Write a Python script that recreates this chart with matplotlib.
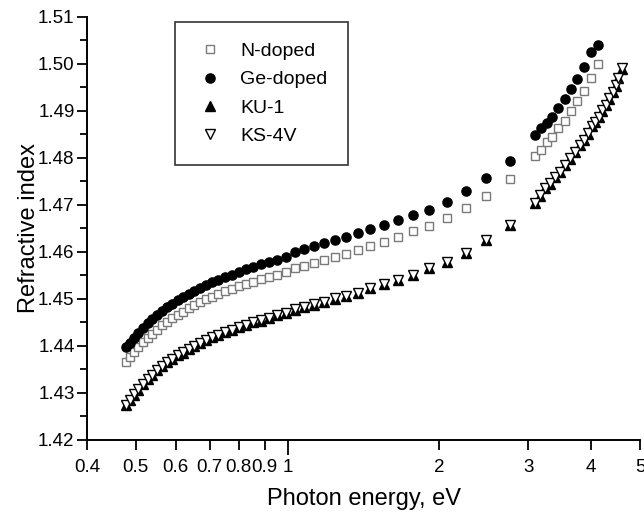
import matplotlib
matplotlib.use("Agg")
import matplotlib.pyplot as plt
from matplotlib.ticker import FixedLocator, FixedFormatter, MultipleLocator

plt.rcParams['font.family'] = ['Liberation Sans', 'DejaVu Sans']

# -----------------------------
# DATA
# -----------------------------
# visible / IR points, photon energy in eV
vis_energy = [0.477, 0.486, 0.496, 0.506, 0.517, 0.528, 0.539, 0.551, 0.564, 0.577,
              0.590, 0.605, 0.620, 0.636, 0.653, 0.670, 0.689, 0.709, 0.729, 0.752,
              0.775, 0.800, 0.827, 0.855, 0.886, 0.919, 0.954, 0.992, 1.033, 1.078,
              1.127, 1.181, 1.240, 1.305, 1.378, 1.459, 1.550, 1.653, 1.771, 1.908,
              2.067, 2.255, 2.480, 2.756]

ge_vis = [1.4397, 1.4407, 1.4418, 1.4428, 1.4438, 1.4448, 1.4457, 1.4466, 1.4475, 1.4483,
          1.4490, 1.4497, 1.4504, 1.4511, 1.4518, 1.4524, 1.4530, 1.4536, 1.4541, 1.4547,
          1.4552, 1.4558, 1.4563, 1.4568, 1.4574, 1.4579, 1.4584, 1.4590, 1.4599, 1.4606,
          1.4612, 1.4619, 1.4626, 1.4632, 1.4640, 1.4649, 1.4657, 1.4669, 1.4679, 1.4690,
          1.4706, 1.4729, 1.4757, 1.4794]

n_vis = [1.4367, 1.4377, 1.4388, 1.4398, 1.4408, 1.4417, 1.4426, 1.4435, 1.4444, 1.4452,
         1.4459, 1.4466, 1.4473, 1.4480, 1.4487, 1.4493, 1.4499, 1.4505, 1.4510, 1.4516,
         1.4521, 1.4527, 1.4532, 1.4537, 1.4542, 1.4547, 1.4552, 1.4558, 1.4565, 1.4571,
         1.4577, 1.4583, 1.4590, 1.4596, 1.4604, 1.4612, 1.4621, 1.4631, 1.4644, 1.4655,
         1.4672, 1.4693, 1.4719, 1.4755]

ks_vis = [1.4274, 1.4285, 1.4297, 1.4308, 1.4319, 1.4330, 1.4339, 1.4349, 1.4358, 1.4366,
          1.4373, 1.4380, 1.4387, 1.4394, 1.4401, 1.4407, 1.4413, 1.4419, 1.4424, 1.4430,
          1.4435, 1.4440, 1.4445, 1.4450, 1.4455, 1.4460, 1.4466, 1.4471, 1.4478, 1.4484,
          1.4489, 1.4494, 1.4502, 1.4507, 1.4513, 1.4523, 1.4532, 1.4540, 1.4551, 1.4565,
          1.4579, 1.4598, 1.4626, 1.4657]

ku_vis = [1.4274, 1.4285, 1.4296, 1.4307, 1.4319, 1.4329, 1.4339, 1.4348, 1.4357, 1.4366,
          1.4372, 1.4380, 1.4386, 1.4394, 1.4400, 1.4407, 1.4412, 1.4419, 1.4423, 1.4430,
          1.4434, 1.4440, 1.4444, 1.4450, 1.4454, 1.4460, 1.4465, 1.4471, 1.4477, 1.4484,
          1.4488, 1.4494, 1.4501, 1.4507, 1.4512, 1.4523, 1.4531, 1.4540, 1.4550, 1.4565,
          1.4578, 1.4598, 1.4625, 1.4657]

# UV points
uv_energy = [3.100, 3.179, 3.263, 3.351, 3.444, 3.543, 3.647, 3.758, 3.875, 4.000, 4.133]
ge_uv = [1.4849, 1.4863, 1.4874, 1.4888, 1.4906, 1.4925, 1.4946, 1.4967, 1.4993, 1.5025, 1.5041]
n_uv = [1.4804, 1.4818, 1.4833, 1.4845, 1.4863, 1.4879, 1.4899, 1.4921, 1.4943, 1.4970, 1.5001]

tri_uv_energy = [3.10, 3.17, 3.24, 3.32, 3.39, 3.47, 3.55, 3.63, 3.72, 3.80, 3.88,
                 3.95, 4.01, 4.07, 4.15, 4.21, 4.28, 4.34, 4.41, 4.48, 4.53, 4.60]
ks_uv = [1.4704, 1.4721, 1.4736, 1.4746, 1.4760, 1.4771, 1.4785, 1.4799, 1.4813, 1.4828, 1.4838,
         1.4853, 1.4867, 1.4877, 1.4888, 1.4902, 1.4913, 1.4927, 1.4941, 1.4955, 1.4970, 1.4991]
ku_uv = [1.4704, 1.4720, 1.4736, 1.4745, 1.4760, 1.4770, 1.4785, 1.4798, 1.4813, 1.4827, 1.4838,
         1.4852, 1.4867, 1.4876, 1.4888, 1.4901, 1.4913, 1.4926, 1.4941, 1.4954, 1.4970, 1.4990]

x_ticks = [0.4, 0.5, 0.6, 0.7, 0.8, 0.9, 2, 3, 4, 5]
x_tick_labels = ["0.4", "0.5", "0.6", "0.7", "0.8", "0.9", "2", "3", "4", "5"]

# -----------------------------
# FIGURE
# -----------------------------
fig = plt.figure(figsize=(6.44, 5.16), dpi=100)
ax = fig.add_axes([0.1351, 0.1473, 0.8587, 0.8198])

sq = dict(marker="s", linestyle="none", markersize=5.8, markerfacecolor="white",
          markeredgecolor="#7a7a7a", markeredgewidth=1.0)
ci = dict(marker="o", linestyle="none", markersize=6.6, color="black")
up = dict(marker="^", linestyle="none", markersize=6.8, color="black")
dn = dict(marker="v", linestyle="none", markersize=6.8, markerfacecolor="white",
          markeredgecolor="black", markeredgewidth=1.0)

ax.plot(vis_energy, n_vis, label="N-doped", **sq)
ax.plot(uv_energy, n_uv, **sq)
ax.plot(vis_energy, ge_vis, label="Ge-doped", **ci)
ax.plot(uv_energy, ge_uv, **ci)
ax.plot(vis_energy, ku_vis, label="KU-1", **up)
ax.plot(tri_uv_energy, ku_uv, **up)
ax.plot(vis_energy, ks_vis, label="KS-4V", **dn)
ax.plot(tri_uv_energy, ks_uv, **dn)

ax.set_xscale("log")
ax.set_xlim(0.4, 5)
ax.set_ylim(1.42, 1.51)

# x ticks: decade at 1 (longer), others labeled minor ticks
ax.xaxis.set_major_locator(FixedLocator([1]))
ax.xaxis.set_major_formatter(FixedFormatter(["1"]))
ax.xaxis.set_minor_locator(FixedLocator(x_ticks))
ax.xaxis.set_minor_formatter(FixedFormatter(x_tick_labels))
ax.tick_params(axis="x", which="major", direction="out", length=11, width=1.3,
               labelsize=13.5, pad=3)
ax.tick_params(axis="x", which="minor", direction="out", length=7, width=1.3,
               labelsize=13.5, pad=7)

ax.yaxis.set_major_locator(MultipleLocator(0.01))
ax.yaxis.set_minor_locator(MultipleLocator(0.005))
ax.yaxis.set_major_formatter(plt.FormatStrFormatter("%.2f"))
ax.tick_params(axis="y", which="major", direction="out", length=7, width=1.3,
               labelsize=13.5, pad=2)
ax.tick_params(axis="y", which="minor", direction="out", length=5, width=1.3)

for side in ["top", "right"]:
    ax.spines[side].set_visible(False)
for side in ["left", "bottom"]:
    ax.spines[side].set_linewidth(1.4)

ax.set_xlabel("Photon energy, eV", fontsize=17)
ax.set_ylabel("Refractive index", fontsize=17)
ax.xaxis.set_label_coords(0.5, -0.114)
ax.yaxis.set_label_coords(-0.085, 0.5)

leg = ax.legend(loc="upper left", bbox_to_anchor=(0.159, 0.988), borderaxespad=0,
                fontsize=14, frameon=True, fancybox=False, edgecolor="black",
                handlelength=1.5, handletextpad=0.8, labelspacing=0.55,
                borderpad=1.05, markerscale=1.0)
leg.get_frame().set_linewidth(1.2)

fig.savefig("out.png", dpi=100)
